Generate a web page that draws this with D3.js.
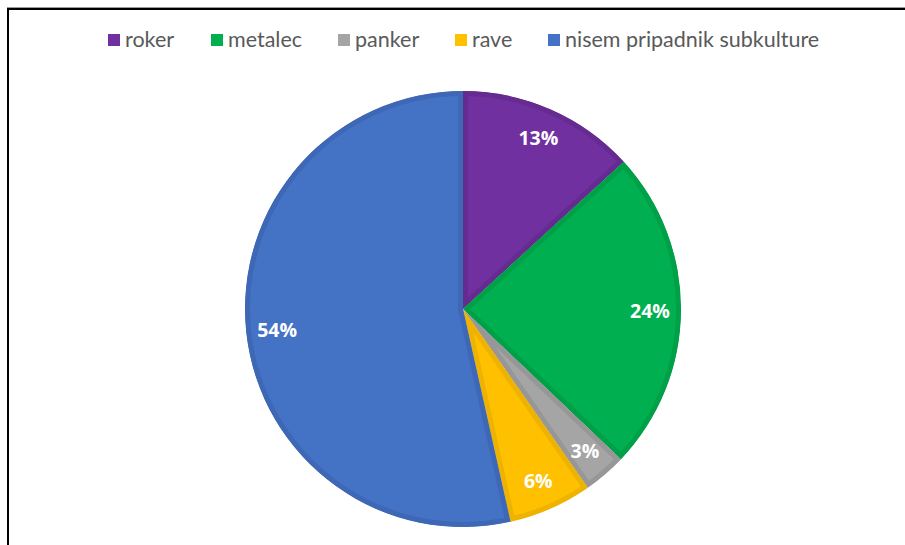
<!DOCTYPE html>
<html>
<head>
<meta charset="utf-8">
<script src="https://cdn.jsdelivr.net/npm/d3@7"></script>
<style>
    html, body { margin: 0; padding: 0; background: #fff; }
    svg { display: block; }
</style>
</head>
<body>
<svg id="chart" width="905" height="545"></svg>
<script>
const categories = ["roker", "metalec", "panker", "rave", "nisem pripadnik subkulture"];
const shares = [13.2, 23.9, 3.2, 6.2, 53.5];
const labels = ["13%", "24%", "3%", "6%", "54%"];
const fills = ["#7030a0", "#00b050", "#a5a5a5", "#ffc000", "#4472c4"];
const borders = ["#652b91", "#00a049", "#979797", "#eeb300", "#3e68b6"];

const svg = d3.select('#chart'),
    cx = 463, cy = 309, r = 218;

// frame: top and left edge of the original screenshot box
svg.append("line").attr("x1", 7).attr("x2", 905).attr("y1", 7.5).attr("y2", 7.5)
    .attr("stroke", "#9a9a9a").attr("stroke-width", 1);
svg.append("line").attr("x1", 7).attr("x2", 905).attr("y1", 9).attr("y2", 9)
    .attr("stroke", "#000").attr("stroke-width", 2);
svg.append("line").attr("x1", 8).attr("x2", 8).attr("y1", 8).attr("y2", 545)
    .attr("stroke", "#000").attr("stroke-width", 2);

// legend
const legendX = [108, 211, 338, 455, 548];
const legend = svg.append("g").attr("class", "legend");
categories.forEach(function(c, i) {
    legend.append("rect")
        .attr("x", legendX[i]).attr("y", 34).attr("width", 12).attr("height", 12)
        .attr("fill", fills[i]);
    legend.append("text")
        .attr("x", legendX[i] + 17).attr("y", 47)
        .attr("font-family", "Lato, 'Open Sans', sans-serif")
        .attr("font-size", 21.5)
        .attr("fill", "#595959")
        .text(c);
});

// pie
const pie = d3.pie().sort(null).value(d => d)(shares);
const arc = d3.arc().innerRadius(0).outerRadius(r);
const labelArc = d3.arc().innerRadius(187).outerRadius(187);

const g = svg.append("g").attr("transform", `translate(${cx},${cy})`);
const defs = svg.append("defs");

pie.forEach(function(p, i) {
    defs.append("clipPath").attr("id", "clip" + i)
        .append("path").attr("d", arc(p));
    g.append("path")
        .attr("d", arc(p))
        .attr("fill", fills[i])
        .attr("stroke", borders[i])
        .attr("stroke-width", 10)
        .attr("stroke-linejoin", "round")
        .attr("clip-path", `url(#clip${i})`);
});

pie.forEach(function(p, i) {
    const [lx, ly] = labelArc.centroid(p);
    g.append("text")
        .attr("x", lx).attr("y", ly)
        .attr("text-anchor", "middle")
        .attr("dominant-baseline", "central")
        .attr("font-family", "'Open Sans', Lato, sans-serif")
        .attr("font-weight", "bold")
        .attr("font-size", 19.5)
        .attr("fill", "#fff")
        .text(labels[i]);
});
</script>
</body>
</html>
